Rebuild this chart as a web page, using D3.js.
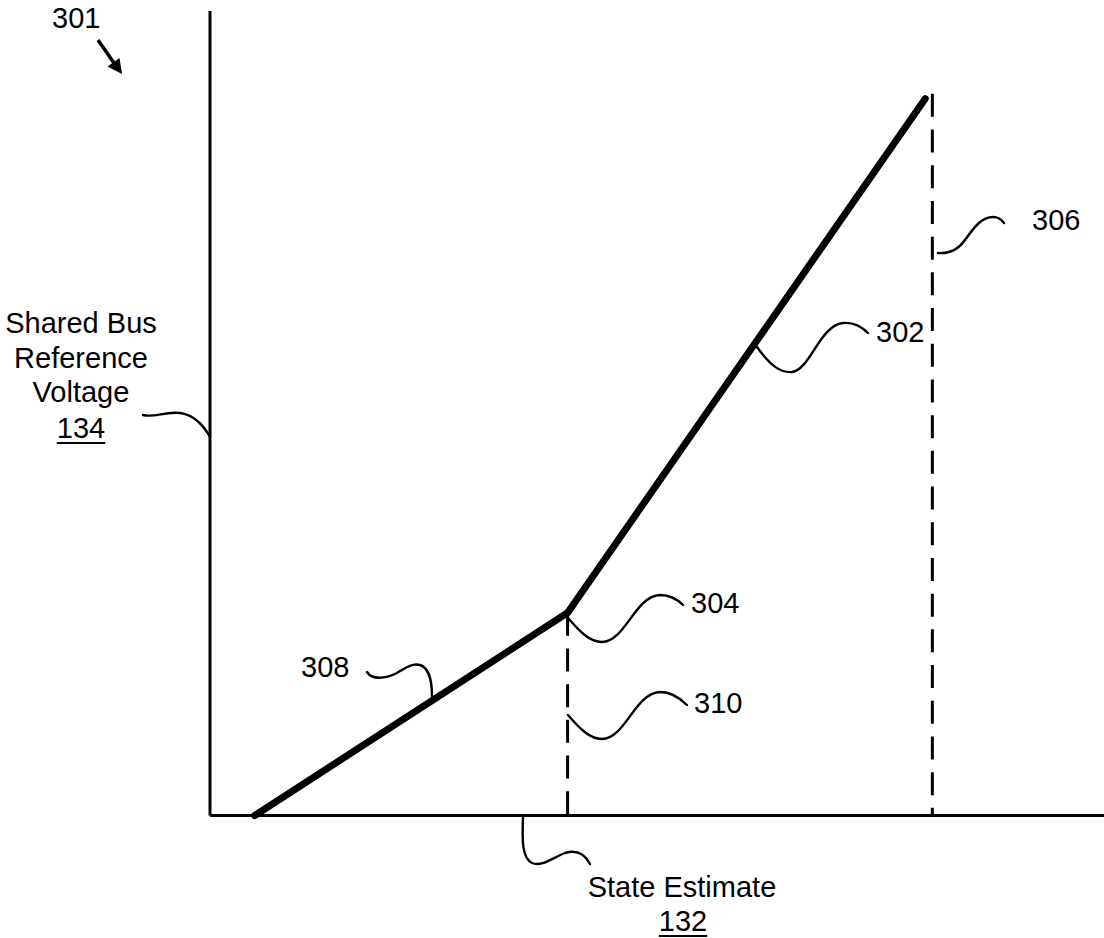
<!DOCTYPE html>
<html>
<head>
<meta charset="utf-8">
<script src="https://cdn.jsdelivr.net/npm/d3@7"></script>
<style>
  html, body { margin: 0; padding: 0; background: #fff; }
  svg { display: block; }
  text { font-family: "Liberation Sans", Arial, sans-serif; font-size: 29px; fill: #000; }
</style>
</head>
<body>
<svg id="chart" width="1104" height="938"></svg>
<script>
// ---- data ----
const stateEstimate = [0.5, 4.0, 8.0];          // x values of the piecewise curve
const busVoltage    = [0, 2.52, 8.91];          // y values of the piecewise curve
const dashedX       = [4.0, 8.08];              // vertical dashed markers
const dashedTop     = [2.52, 8.97];
const yAxisLines    = ["Shared Bus", "Reference", "Voltage"];
const yAxisRef      = "134";
const xAxisLines    = ["State Estimate"];
const xAxisRef      = "132";
const refLabels     = ["301", "302", "304", "306", "308", "310"];

// ---- layout ----
const svg = d3.select("#chart");
const x = d3.scaleLinear().domain([0, 10]).range([210, 1104]);
const y = d3.scaleLinear().domain([0, 10]).range([815.5, 11]);

// axes (plain lines, no ticks)
svg.append("line").attr("x1", x(0)).attr("x2", x(0)).attr("y1", y(10)).attr("y2", y(0))
  .attr("stroke", "#000").attr("stroke-width", 3);
svg.append("line").attr("x1", x(0)).attr("x2", x(10)).attr("y1", y(0)).attr("y2", y(0))
  .attr("stroke", "#000").attr("stroke-width", 3);

// dashed markers
dashedX.forEach((dx, i) => {
  svg.append("line")
    .attr("x1", x(dx)).attr("x2", x(dx))
    .attr("y1", y(dashedTop[i])).attr("y2", y(0))
    .attr("stroke", "#000").attr("stroke-width", 3)
    .attr("stroke-dasharray", "23,12.7");
});

// main curve
const pts = stateEstimate.map((v, i) => [v, busVoltage[i]]);
svg.append("path")
  .attr("d", d3.line().x(d => x(d[0])).y(d => y(d[1]))(pts))
  .attr("fill", "none").attr("stroke", "#000").attr("stroke-width", 7)
  .attr("stroke-linecap", "round").attr("stroke-linejoin", "round");

// leader curves
const leaders = [
  "M143,415 C155,418 165,411 180,413 C195,415 205,428 210,437",
  "M757,347 C770,365 780,373 792,372 C810,370 820,325 843,323 C855,322 863,328 868,333",
  "M568,618 C580,632 590,642 602,642 C625,642 635,596 660,595 C670,595 678,600 683,605",
  "M568,715 C580,729 590,739 602,739 C625,739 635,693 660,692 C672,692 680,698 687,705",
  "M938,253 C950,254 958,250 965,240 C975,226 982,217 993,217 C998,217 1002,220 1004,223",
  "M367,672 C372,680 385,679 397,673 C405,668 412,663 420,665 C430,668 432,685 432,696",
  "M523,818 C522,840 522,858 532,863 C542,867 552,858 565,853 C578,849 585,855 590,864"
];
leaders.forEach(d => svg.append("path").attr("d", d)
  .attr("fill", "none").attr("stroke", "#000").attr("stroke-width", 2.4).attr("stroke-linecap", "round"));

// 301 arrow
svg.append("line").attr("x1", 98).attr("y1", 40).attr("x2", 114).attr("y2", 63)
  .attr("stroke", "#000").attr("stroke-width", 3.5);
svg.append("path").attr("d", "M122,74 L107.5,66.5 L119.5,58 Z").attr("fill", "#000");

// reference numeral labels
const refPos = [[52, 28], [876, 342], [691, 613], [1032, 230], [301, 677], [694, 713]];
refLabels.forEach((t, i) => {
  svg.append("text").attr("x", refPos[i][0]).attr("y", refPos[i][1]).text(t);
});

// underlined label helper
function underlined(txt, cx, by) {
  const t = svg.append("text").attr("x", cx).attr("y", by).attr("text-anchor", "middle").text(txt);
  const w = t.node().getComputedTextLength();
  svg.append("line").attr("x1", cx - w / 2).attr("x2", cx + w / 2)
    .attr("y1", by + 5).attr("y2", by + 5).attr("stroke", "#000").attr("stroke-width", 2);
}

// y-axis title
const yBase = [333, 368, 402];
yAxisLines.forEach((t, i) => {
  svg.append("text").attr("x", 81).attr("y", yBase[i]).attr("text-anchor", "middle").text(t);
});
underlined(yAxisRef, 81, 438);

// x-axis title
xAxisLines.forEach(t => {
  svg.append("text").attr("x", 682).attr("y", 897).attr("text-anchor", "middle").text(t);
});
underlined(xAxisRef, 683, 931);
</script>
</body>
</html>
